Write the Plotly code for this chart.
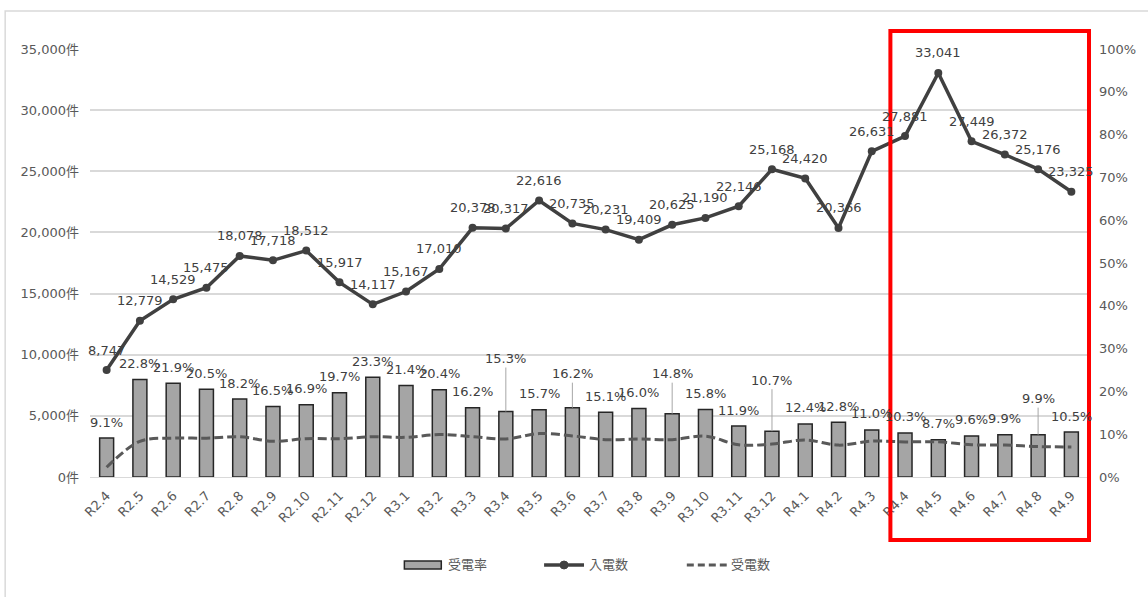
import plotly.graph_objects as go

# Monthly call statistics (Reiwa era months)
months = [
    "R2.4", "R2.5", "R2.6", "R2.7", "R2.8", "R2.9", "R2.10", "R2.11", "R2.12",
    "R3.1", "R3.2", "R3.3", "R3.4", "R3.5", "R3.6", "R3.7", "R3.8", "R3.9",
    "R3.10", "R3.11", "R3.12", "R4.1", "R4.2", "R4.3", "R4.4", "R4.5", "R4.6",
    "R4.7", "R4.8", "R4.9",
]

# 入電数 (incoming calls)
incoming = [
    8747, 12779, 14529, 15475, 18078, 17718, 18512, 15917, 14117,
    15167, 17010, 20378, 20317, 22616, 20735, 20231, 19409, 20625,
    21190, 22146, 25168, 24420, 20366, 26631, 27881, 33041, 27449,
    26372, 25176, 23325,
]

# 受電率 (answer rate, %)
answer_rate = [
    9.1, 22.8, 21.9, 20.5, 18.2, 16.5, 16.9, 19.7, 23.3,
    21.4, 20.4, 16.2, 15.3, 15.7, 16.2, 15.1, 16.0, 14.8,
    15.8, 11.9, 10.7, 12.4, 12.8, 11.0, 10.3, 8.7, 9.6,
    9.9, 9.9, 10.5,
]

# 受電数 (answered calls)
answered = [
    796, 2914, 3182, 3172, 3290, 2923, 3129, 3136, 3289,
    3246, 3470, 3301, 3109, 3551, 3359, 3055, 3105, 3053,
    3348, 2635, 2693, 3028, 2607, 2929, 2872, 2875, 2635,
    2611, 2492, 2449,
]

left_ticks = [0, 5000, 10000, 15000, 20000, 25000, 30000, 35000]
right_ticks = [0, 10, 20, 30, 40, 50, 60, 70, 80, 90, 100]

series_names = ["受電率", "入電数", "受電数"]

# rate labels that sit higher with a leader line (pixels above the bar top)
lifted_labels = {"R3.4": 53, "R3.6": 34, "R3.9": 40, "R3.12": 51, "R4.8": 36}

FONT = "DejaVu Sans, Noto Sans CJK JP, sans-serif"
LABEL_COLOR = "#404040"
TICK_COLOR = "#595959"
GRID_COLOR = "#D9D9D9"
BAR_FILL = "#A5A5A5"
BAR_EDGE = "#262626"
LINE_COLOR = "#404040"
DASH_COLOR = "#595959"

fig = go.Figure()

fig.add_trace(go.Bar(
    x=months, y=answer_rate, name=series_names[0], yaxis="y",
    marker=dict(color=BAR_FILL, line=dict(color=BAR_EDGE, width=1.5)),
    width=0.42, showlegend=False,
))

fig.add_trace(go.Scatter(
    x=months, y=incoming, name=series_names[1], yaxis="y2",
    mode="lines+markers",
    line=dict(color=LINE_COLOR, width=3.5),
    marker=dict(color=LINE_COLOR, size=8),
    showlegend=False,
))

fig.add_trace(go.Scatter(
    x=months, y=answered, name=series_names[2], yaxis="y2",
    mode="lines",
    line=dict(color=DASH_COLOR, width=3, dash="9px,4px", shape="spline"),
    showlegend=False,
))

label_font = dict(family=FONT, size=13, color=LABEL_COLOR)
annotations = []

# value labels for the answer-rate bars
for m, r in zip(months, answer_rate):
    common = dict(x=m, y=r, xref="x", yref="y", text=f"{r:.1f}%", font=label_font)
    if m in lifted_labels:
        annotations.append(dict(
            **common, showarrow=True, arrowhead=0, arrowwidth=1,
            arrowcolor="#A6A6A6", ax=0, ay=-lifted_labels[m], standoff=0,
        ))
    else:
        annotations.append(dict(**common, showarrow=False, yshift=16))

# value labels for the incoming-call line
for m, v in zip(months, incoming):
    annotations.append(dict(
        x=m, y=v, xref="x", yref="y2", text=f"{v:,}", font=label_font,
        showarrow=False, yshift=20,
    ))

# legend, laid out along the bottom of the chart
LEG_Y = -0.2056
legend_font = dict(family=FONT, size=13, color=TICK_COLOR)
annotations += [
    dict(x=0.357, y=LEG_Y, xref="paper", yref="paper", text=series_names[0],
         showarrow=False, xanchor="left", yanchor="middle", font=legend_font),
    dict(x=0.498, y=LEG_Y, xref="paper", yref="paper", text=series_names[1],
         showarrow=False, xanchor="left", yanchor="middle", font=legend_font),
    dict(x=0.640, y=LEG_Y, xref="paper", yref="paper", text=series_names[2],
         showarrow=False, xanchor="left", yanchor="middle", font=legend_font),
]

shapes = [
    # chart frame
    dict(type="rect", xref="paper", yref="paper",
         x0=-0.085, x1=1.2, y0=-0.6, y1=1.0888,
         line=dict(color=GRID_COLOR, width=1.5), layer="below"),
    # legend swatches
    dict(type="rect", xref="paper", yref="paper",
         x0=0.315, x1=0.352, y0=LEG_Y - 0.0095, y1=LEG_Y + 0.0095,
         fillcolor=BAR_FILL, line=dict(color=BAR_EDGE, width=1.5)),
    dict(type="line", xref="paper", yref="paper",
         x0=0.455, x1=0.495, y0=LEG_Y, y1=LEG_Y,
         line=dict(color=LINE_COLOR, width=3.5)),
    dict(type="circle", xref="paper", yref="paper",
         x0=0.471, x1=0.479, y0=LEG_Y - 0.0093, y1=LEG_Y + 0.0093,
         fillcolor=LINE_COLOR, line=dict(color=LINE_COLOR, width=1)),
    dict(type="line", xref="paper", yref="paper",
         x0=0.598, x1=0.638, y0=LEG_Y, y1=LEG_Y,
         line=dict(color=DASH_COLOR, width=3, dash="7px,4px")),
    # highlight box
    dict(type="rect", xref="paper", yref="paper",
         x0=0.802, x1=1.001, y0=-0.147, y1=1.042,
         line=dict(color="#FF0000", width=4), layer="above"),
]

fig.update_layout(
    width=1148, height=597,
    margin=dict(l=90, r=58, t=49, b=120),
    paper_bgcolor="white", plot_bgcolor="white",
    font=dict(family=FONT, size=13, color=TICK_COLOR),
    bargap=0.58,
    showlegend=False,
    xaxis=dict(
        type="category", categoryorder="array", categoryarray=months,
        range=[-0.5, len(months) - 0.5],
        tickangle=-45, showgrid=False, showline=True, linecolor=GRID_COLOR,
        linewidth=1, ticks="", ticklabelstandoff=5,
        tickfont=dict(size=13, color=TICK_COLOR),
    ),
    yaxis=dict(
        side="right", range=[0, 100], tickvals=right_ticks,
        ticktext=[f"{t}%" for t in right_ticks],
        showgrid=False, zeroline=False, showline=False, ticks="",
        ticklabelstandoff=10, tickfont=dict(size=13, color=TICK_COLOR),
    ),
    yaxis2=dict(
        side="left", overlaying="y", range=[0, 35000], tickvals=left_ticks,
        ticktext=[f"{t:,}件" for t in left_ticks],
        showgrid=True, gridcolor=GRID_COLOR, gridwidth=1.5,
        zeroline=False, showline=False, ticks="",
        ticklabelstandoff=10, tickfont=dict(size=13, color=TICK_COLOR),
    ),
    annotations=annotations,
    shapes=shapes,
)

fig.write_html("out.html")
